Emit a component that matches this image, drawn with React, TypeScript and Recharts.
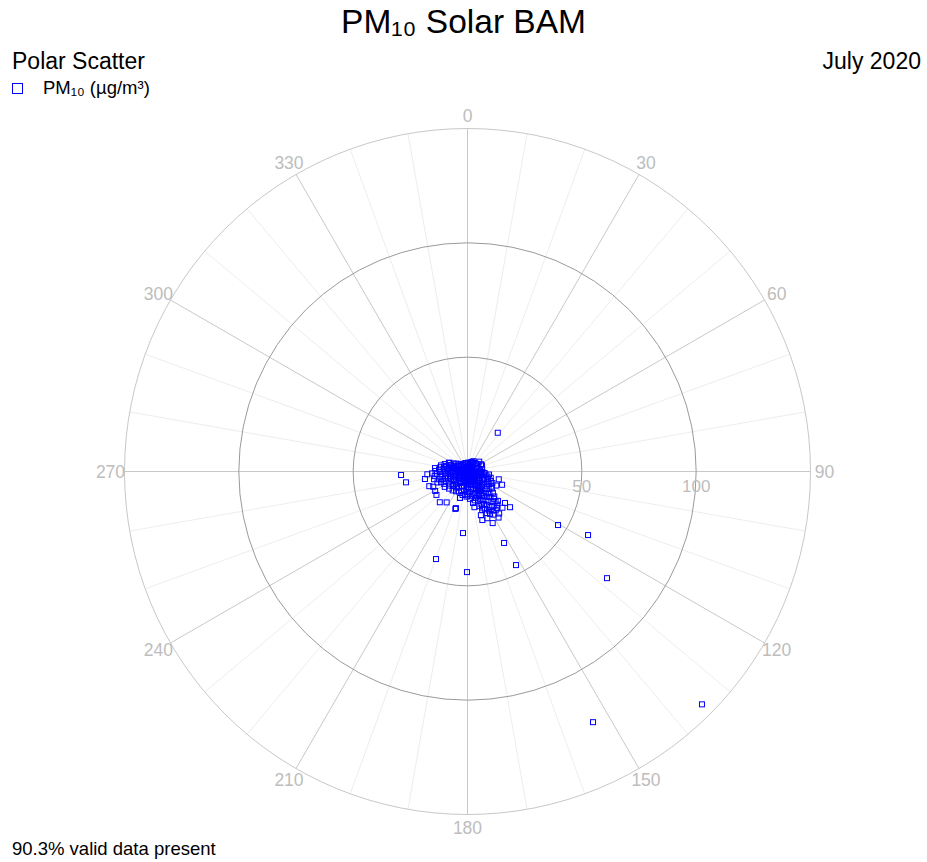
import React from "react";
import { RadarChart, Radar, PolarGrid, PolarAngleAxis, PolarRadiusAxis } from "recharts";

// hourly observations: [wind direction (deg), PM10 (µg/m³)]
const calmObs: [number, number][] = [
  [0, 1.5], [10, 2.5], [20, 3], [30, 2], [40, 3.5], [50, 2.5], [60, 3], [70, 4], [80, 2], [90, 3],
  [100, 4], [110, 2.5], [120, 3.5], [130, 2], [140, 4], [150, 3], [160, 2], [170, 3.5], [180, 2.5],
  [190, 3], [200, 4], [210, 2], [220, 3], [230, 2.5], [240, 3.5], [250, 2], [260, 3], [270, 2.5],
  [280, 4], [290, 3], [300, 2], [310, 3.5], [320, 2.5], [330, 3], [340, 2], [350, 3.5], [5, 1],
  [45, 1.2], [95, 1], [135, 0.8], [185, 1.1], [225, 0.9], [275, 1.3], [315, 1], [355, 0.5],
  [65, 1.8], [155, 1.6], [245, 1.7], [335, 1.5],
];

const northEastObs: [number, number][] = [
  [15, 3.8], [25, 4.5], [35, 4.2], [45, 5], [55, 5.5], [62, 6.7], [67, 6.9], [50, 6.7], [22, 4.5],
  [75, 5], [85, 5.5], [80, 6.5], [40, 4.8], [30, 5.2], [352, 3.6], [345, 3.8], [5, 3.9],
];

const eastObs: [number, number][] = [
  [90, 5], [92, 6.5], [95, 7.5], [100, 6], [100, 8], [104, 9], [105, 10.5], [108, 7], [110, 9.5],
  [112, 11], [115, 8], [115, 12], [118, 10], [118, 6], [120, 7.5], [120, 11], [122, 12.5], [125, 9],
  [125, 13], [104, 14.1], [111, 16.2], [97, 4.5], [113, 5], [108, 4], [98, 9.5], [116, 14],
];

const southEastObs: [number, number][] = [
  [126, 5], [128, 7], [128, 10.5], [130, 12], [130, 14.5], [132, 8.5], [133, 16], [135, 6], [135, 11],
  [135, 13.5], [136, 16.6], [137, 18], [138, 9], [138, 15], [140, 7.5], [140, 12.5], [140, 17],
  [142, 10], [142, 14], [143, 19], [145, 6], [145, 11.5], [145, 16], [146, 13], [147, 18.5], [148, 8.5],
  [148, 15], [150, 10], [150, 12.5], [150, 17], [151, 19.5], [152, 7], [152, 14], [153, 16], [155, 9],
  [155, 11.5], [155, 18], [156, 13], [157, 15.5], [158, 6], [158, 17], [160, 10], [160, 13.5],
  [161, 16], [162, 8], [162, 12], [127, 4], [131, 3.5], [139, 4.5], [144, 5], [149, 4], [154, 5],
  [159, 4.5], [130, 24.3], [130, 21.4], [149, 22], [146, 24.3], [154, 25.1], [157, 22.2], [163, 22.2],
  [163, 20], [159, 18], [169, 15.9], [138, 19.5], [141, 20.5], [144, 21], [134, 18.5], [147, 20.3],
  [152, 21], [155, 20], [143, 23], [136, 22], [132, 5.5], [137, 7], [143, 8], [147, 10], [153, 11],
];

const southObs: [number, number][] = [
  [165, 6], [165, 10], [166, 13], [168, 8], [170, 11], [170, 14], [172, 5.5], [174, 9], [175, 12],
  [177, 7], [178, 10.5], [180, 6], [180, 9], [182, 11], [184, 7.5], [186, 10], [188, 5], [190, 8.5],
  [192, 10.5], [195, 6.5], [196, 12], [197, 9], [200, 7], [198, 17.2], [168, 4], [176, 4.5],
  [186, 4], [194, 4.5],
];

const southWestObs: [number, number][] = [
  [203, 9.5], [205, 5], [208, 8], [210, 10], [213, 6], [215, 8.5], [218, 10.5], [220, 5.5], [222, 7.5],
  [225, 9], [227, 11], [228, 6.5], [230, 8.5], [232, 10], [234, 5], [236, 12], [238, 7], [240, 9.5],
  [242, 11.5], [244, 6], [214, 16.3], [222, 18.1], [233, 17], [239, 16.5], [212, 4], [224, 4.2],
  [236, 4],
];

const westObs: [number, number][] = [
  [246, 8], [247, 10.5], [248, 12.5], [250, 6], [250, 14], [252, 9], [253, 11.5], [255, 7.5], [255, 13],
  [257, 15], [258, 5], [258, 10], [260, 12], [261, 8], [262, 14.5], [263, 6.5], [264, 11], [265, 9.5],
  [266, 13.5], [267, 15.5], [268, 7], [269, 12], [270, 10], [271, 14], [272, 5.5], [273, 8.5],
  [274, 12.5], [275, 10.5], [276, 14.3], [277, 7], [278, 9], [279, 12], [280, 5], [281, 10.5], [282, 8],
  [283, 11.9], [284, 6.5], [285, 9.5], [287, 7.5], [288, 10.5], [290, 5.5], [291, 8], [293, 6.5],
  [295, 9], [296, 8.7], [298, 5], [300, 7], [302, 4.5], [305, 6], [308, 5], [312, 4], [318, 4.5],
  [325, 3.5], [248, 4], [256, 3.5], [266, 4], [276, 3.8], [286, 4.2], [246, 16.4], [249, 17.9],
  [260, 18.9], [266, 17.6],
];

const outlierObs: [number, number][] = [
  [38, 21.5], [120.6, 46], [117.8, 59.6], [127.4, 76.8], [134.8, 144.5], [153.4, 122.6], [152.6, 46.1],
  [152.9, 35.1], [180.3, 44], [199.8, 40.7], [184.2, 27], [197.5, 16.8], [195.8, 12], [267, 29.1],
  [260, 27.3],
];

const angleTicks = [0, 30, 60, 90, 120, 150, 180, 210, 240, 270, 300, 330];
const minorDirs = [10, 20, 40, 50, 70, 80, 100, 110, 130, 140, 160, 170, 190, 200, 220, 230, 250, 260, 280, 290, 310, 320, 340, 350];
const radiusTicks = [50, 100];
const minorRadiusTicks = [10, 20, 30, 40, 60, 70, 80, 90, 110, 120, 130, 140];

const data = [
  ...calmObs, ...northEastObs, ...eastObs, ...southEastObs, ...southObs,
  ...southWestObs, ...westObs, ...outlierObs,
].map(([dir, pm10]) => ({ dir, pm10 }));

const W = 927;
const H = 862;
const CX = 467.5;
const CY = 471.5;
const R = 343;
const FONT = "'Liberation Sans', Arial, sans-serif";
const LABEL = "#bdbdbd";

const AngleTick = (props: any) => {
  const v = Number(props.payload?.value);
  if (!(v >= 0 && v < 360)) return <g />;
  const rad = (v * Math.PI) / 180;
  const x = CX + (R + 14) * Math.sin(rad);
  const y = CY - (R + 13) * Math.cos(rad);
  return (
    <text x={x} y={y} textAnchor="middle" dominantBaseline="central" fill={LABEL} fontSize={17.5} fontFamily={FONT}>
      {v}
    </text>
  );
};

const RadiusTick = (props: any) => (
  <text x={Number(props.x)} y={Number(props.y) + 15} textAnchor="middle" dominantBaseline="central" fill={LABEL} fontSize={17} fontFamily={FONT}>
    {props.payload?.value}
  </text>
);

const MinorRadiusTick = (props: any) => (
  <line x1={Number(props.x)} y1={Number(props.y) - 3} x2={Number(props.x)} y2={Number(props.y)} stroke="#cfcfcf" />
);

const SquareDot = (props: any) => {
  const { cx, cy } = props;
  if (cx == null || cy == null) return <g />;
  return <rect x={cx - 2.5} y={cy - 2.5} width={5} height={5} fill="none" stroke="#0000ff" strokeWidth={1} />;
};

const App: React.FC = () => {
  return (
    <div style={{ position: "absolute", left: 0, top: 0, width: W, height: H, background: "#fff", fontFamily: FONT }}>
      <RadarChart
        width={W}
        height={H}
        data={data}
        cx={CX}
        cy={CY}
        outerRadius={R}
        margin={{ top: 0, right: 0, bottom: 0, left: 0 }}
        startAngle={90}
        endAngle={-270}
      >
        <PolarGrid gridType="circle" polarAngles={minorDirs.map((d) => 90 - d)} polarRadius={[]} stroke="#ededed" />
        <PolarGrid gridType="circle" polarRadius={[]} stroke="#c8c8c8" />
        <PolarGrid gridType="circle" radialLines={false} stroke="#9a9a9a" />
        <PolarAngleAxis
          dataKey="dir"
          type="number"
          domain={[0, 360]}
          ticks={angleTicks}
          tickCount={13}
          tick={AngleTick}
          tickLine={false}
          axisLineType="circle"
          stroke="#c8c8c8"
        />
        <PolarRadiusAxis
          radiusAxisId="minor"
          angle={0}
          type="number"
          domain={[0, 150]}
          ticks={minorRadiusTicks}
          tick={MinorRadiusTick}
          axisLine={false}
        />
        <PolarRadiusAxis
          angle={0}
          type="number"
          domain={[0, 150]}
          ticks={radiusTicks}
          tick={RadiusTick}
          axisLine={false}
          tickLine={false}
        />
        <Radar dataKey="pm10" stroke="none" fill="none" dot={SquareDot} isAnimationActive={false} />
      </RadarChart>

      <div style={{ position: "absolute", left: 0, width: W, top: 3, textAlign: "center", fontSize: 33.5, lineHeight: "38px" }}>
        PM₁₀ Solar BAM
      </div>
      <div style={{ position: "absolute", left: 12, top: 47, fontSize: 23, lineHeight: "28px" }}>Polar Scatter</div>
      <div style={{ position: "absolute", right: 6, top: 47, fontSize: 23, lineHeight: "28px" }}>July 2020</div>
      <div style={{ position: "absolute", left: 12, top: 77, fontSize: 18.5, lineHeight: "22px", display: "flex", alignItems: "center" }}>
        <span style={{ display: "inline-block", width: 9, height: 9, border: "1px solid #0000ff", marginRight: 20 }} />
        PM₁₀ (µg/m³)
      </div>
      <div style={{ position: "absolute", left: 12, top: 838, fontSize: 18.5, lineHeight: "22px" }}>90.3% valid data present</div>
    </div>
  );
};

export default App;
